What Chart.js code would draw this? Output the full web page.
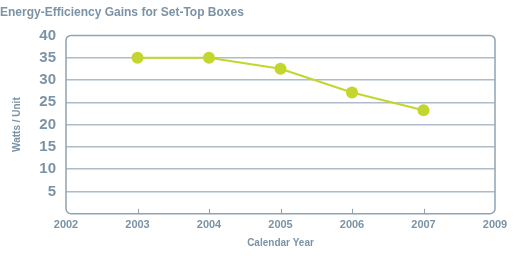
<!DOCTYPE html>
<html>
<head>
<meta charset="utf-8">
<script src="https://cdn.jsdelivr.net/npm/chart.js@4"></script>
<style>
  html, body { margin: 0; padding: 0; background: #fff; }
  #wrap { width: 516px; height: 258px; }
</style>
</head>
<body>
<div id="wrap"><canvas id="myChart"></canvas></div>
<script>
const years = ['2002', '2003', '2004', '2005', '2006', '2007', '2009'];
const dataYears = ['2003', '2004', '2005', '2006', '2007'];
const watts = [35, 35, 32.5, 27.2, 23.2];
const yTicks = [0, 5, 10, 15, 20, 25, 30, 35, 40];

const textColor = '#7b93a6';
const gridColor = '#adbcc8';
const frameColor = '#8ea3b4';
const lineColor = '#c2d62e';

// rounded frame and small inward ticks along the bottom
const framePlugin = {
  id: 'frame',
  afterDraw(chart) {
    const a = chart.chartArea;
    const ctx = chart.ctx;
    const xs = chart.scales.x;
    ctx.save();
    ctx.strokeStyle = frameColor;
    ctx.lineWidth = 1.5;
    ctx.beginPath();
    ctx.roundRect(a.left, a.top, a.right - a.left, a.bottom - a.top, 5);
    ctx.stroke();
    ctx.lineWidth = 1;
    for (let i = 1; i < years.length - 1; i++) {
      const px = Math.round(xs.getPixelForTick(i)) + 0.5;
      ctx.beginPath();
      ctx.moveTo(px, a.bottom);
      ctx.lineTo(px, a.bottom - 5);
      ctx.stroke();
    }
    ctx.restore();
  }
};

const fontFamily = '"Liberation Sans", Arial, sans-serif';

new Chart(document.getElementById('myChart'), {
  type: 'line',
  data: {
    labels: years,
    datasets: [{
      data: dataYears.map((yr, i) => ({ x: yr, y: watts[i] })),
      borderColor: lineColor,
      backgroundColor: lineColor,
      borderWidth: 2,
      pointRadius: 6,
      pointHoverRadius: 6,
      pointBorderWidth: 0,
      tension: 0
    }]
  },
  options: {
    responsive: true,
    maintainAspectRatio: false,
    animation: false,
    layout: { padding: { left: 0, right: 21, top: 5, bottom: 9 } },
    plugins: {
      legend: { display: false },
      tooltip: { enabled: false },
      title: {
        display: true,
        text: 'Energy-Efficiency Gains for Set-Top Boxes',
        align: 'start',
        color: textColor,
        font: { family: fontFamily, size: 12, weight: 'bold' },
        padding: { top: 0, bottom: 16, left: 7 }
      }
    },
    scales: {
      x: {
        type: 'category',
        offset: false,
        grid: { display: false, drawTicks: false, tickLength: 0 },
        border: { display: false },
        ticks: {
          color: textColor,
          font: { family: fontFamily, size: 11, weight: 'bold' },
          maxRotation: 0,
          autoSkip: false,
          padding: 5
        },
        title: {
          display: true,
          text: 'Calendar Year',
          color: textColor,
          font: { family: fontFamily, size: 10, weight: 'bold' },
          padding: { top: 0, bottom: 0 }
        }
      },
      y: {
        min: 0,
        max: 40,
        afterBuildTicks(scale) { scale.ticks = yTicks.map(v => ({ value: v })); },
        afterFit(scale) { scale.width = 66; },
        grid: {
          color: ctx => (ctx.tick && (ctx.tick.value === 0 || ctx.tick.value === 40)) ? 'rgba(0,0,0,0)' : gridColor,
          lineWidth: 1.5,
          drawTicks: false
        },
        border: { display: false },
        ticks: {
          color: textColor,
          font: { family: fontFamily, size: 15, weight: 'bold' },
          padding: 10,
          callback: v => v === 0 ? '' : v
        },
        title: {
          display: true,
          text: 'Watts / Unit',
          color: textColor,
          font: { family: fontFamily, size: 10, weight: 'bold' },
          padding: { top: 11, bottom: 0 }
        }
      }
    }
  },
  plugins: [framePlugin]
});
</script>
</body>
</html>
